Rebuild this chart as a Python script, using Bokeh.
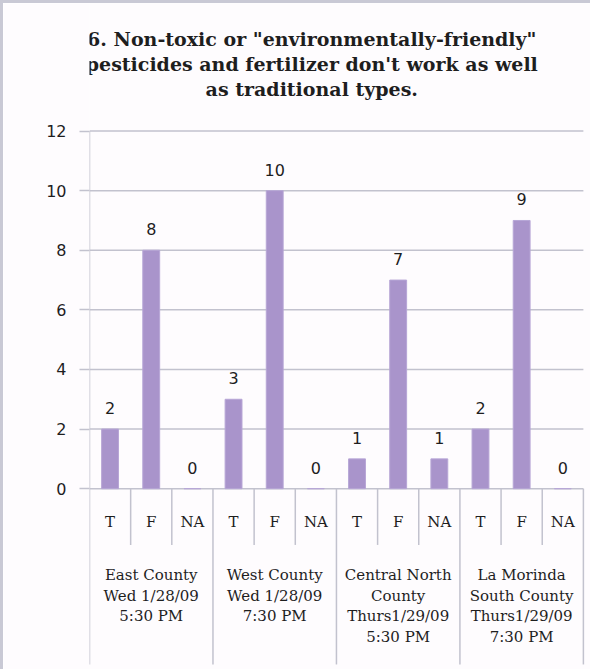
from bokeh.plotting import figure
from bokeh.models import Range1d, FixedTicker, Label
from bokeh.embed import file_html
from bokeh.resources import INLINE
from bokeh.core.properties import value

# ---- data ----
title_lines = ['6. Non-toxic or "environmentally-friendly"',
               "pesticides and fertilizer don't work as well",
               "as traditional types."]
answers = ["T", "F", "NA"]
groups = [["East County", "Wed 1/28/09", "5:30 PM"],
          ["West County", "Wed 1/28/09", "7:30 PM"],
          ["Central North", "County", "Thurs1/29/09", "5:30 PM"],
          ["La Morinda", "South County", "Thurs1/29/09", "7:30 PM"]]
counts = [2, 8, 0, 3, 10, 0, 1, 7, 1, 2, 9, 0]
y_ticks = [0, 2, 4, 6, 8, 10, 12]

# ---- geometry helpers ----
PX_X = 40.917   # px per x unit
PX_Y = 29.667   # px per y unit
n = len(counts)
xs = [i + 0.5 for i in range(n)]
sub_labels = [answers[i % 3] for i in range(n)]

GRID = "#C2C2CE"
BAR = "#A994CB"
TXT = "#1E1E1E"
BG = "#FEFCFE"

W, H = 600, 670
LEFT = 86
y_end = 12 + 127 / PX_Y
y_start = -((H - 3) - 483) / PX_Y
y_bottom = -175 / PX_Y
x_end = ((W - 3) - LEFT) / PX_X

p = figure(width=W, height=H,
           x_range=Range1d(0, x_end),
           y_range=Range1d(y_start, y_end),
           output_backend="svg", toolbar_location=None,
           min_border_left=LEFT, min_border_right=0,
           min_border_top=0, min_border_bottom=0,
           styles={"border-left": "3px solid #C9C9D5",
                   "border-top": "3px solid #C9C9D5"},
           background_fill_color=BG, border_fill_color=BG)
p.outline_line_color = None
p.xgrid.visible = False
p.ygrid.visible = False
p.xaxis.visible = False

ya = p.yaxis[0]
ya.ticker = FixedTicker(ticks=y_ticks)
ya.axis_line_color = None
ya.major_tick_out = 10
ya.major_tick_in = 0
ya.major_tick_line_color = GRID
ya.major_tick_line_width = 1.5
ya.minor_tick_line_color = None
ya.major_label_standoff = 13
ya.major_label_text_font = "DejaVu Sans"
ya.major_label_text_font_size = "16px"
ya.major_label_text_color = TXT

# horizontal gridlines (including baseline)
p.segment(x0=[0] * len(y_ticks), x1=[n] * len(y_ticks), y0=y_ticks, y1=y_ticks,
          line_color=GRID, line_width=1.5)
# vertical axis line
p.segment(x0=[0], x1=[0], y0=[y_bottom], y1=[max(y_ticks)], line_color=GRID, line_width=1.5)
# sub separators and group separators
sub_x = [i for i in range(1, n) if i % 3 != 0]
p.segment(x0=sub_x, x1=sub_x, y0=[0] * len(sub_x), y1=[-(543 - 487) / PX_Y] * len(sub_x),
          line_color=GRID, line_width=1.5)
grp_x = [3 * g for g in range(1, len(groups) + 1)]
p.segment(x0=grp_x, x1=grp_x, y0=[0] * len(grp_x), y1=[y_bottom] * len(grp_x),
          line_color=GRID, line_width=1.5)

# bars
p.vbar(x=xs, top=counts, bottom=0, width=0.41, fill_color=BAR, line_color="#B7A6D6", line_width=1)

# data labels
p.text(x=xs, y=counts, text=[str(c) for c in counts], y_offset=-21,
       text_align="center", text_baseline="middle",
       text_font=value("DejaVu Sans"), text_font_size="16px", text_color=TXT)

# sub-category labels
p.text(x=xs, y=[-(520 - 487) / PX_Y] * n, text=sub_labels,
       text_align="center", text_baseline="middle",
       text_font=value("DejaVu Serif"), text_font_size="15px", text_color=TXT)

# group labels
gx, gy, gt, goff = [], [], [], []
for g, lines in enumerate(groups):
    for k, t in enumerate(lines):
        gx.append(3 * g + 1.5)
        gy.append(-(573 - 487) / PX_Y)
        gt.append(t)
        goff.append(k * 20.7)
p.text(x=gx, y=gy, text=gt, y_offset=goff,
       text_align="center", text_baseline="middle",
       text_font=value("DejaVu Serif"), text_font_size="15px", text_color=TXT)

# title
for k, t in enumerate(title_lines):
    p.add_layout(Label(x=(311 - 90) / PX_X, y=(487 - (39 + 25 * k)) / PX_Y, text=t,
                       text_align="center", text_baseline="alphabetic",
                       text_font="DejaVu Serif", text_font_style="bold",
                       text_font_size="19px", text_color=TXT))

open("out.html", "w").write(file_html(p, INLINE))
